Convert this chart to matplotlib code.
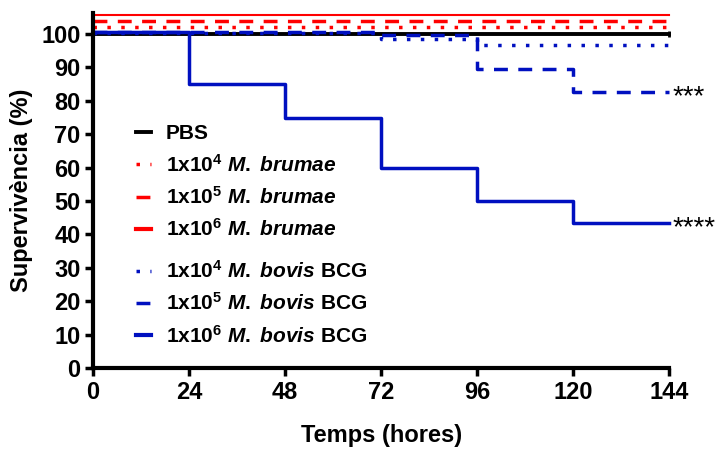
import matplotlib
matplotlib.use("Agg")
import matplotlib.pyplot as plt
from matplotlib.lines import Line2D

plt.rcParams['font.family'] = ['Liberation Sans', 'DejaVu Sans']
plt.rcParams['font.weight'] = 'bold'
plt.rcParams['mathtext.fontset'] = 'custom'
plt.rcParams['mathtext.rm'] = 'Liberation Sans:bold'
plt.rcParams['mathtext.it'] = 'Liberation Sans:bold:italic'
plt.rcParams['mathtext.bf'] = 'Liberation Sans:bold'

# time points (hours) where each interval starts
hours = [0, 24, 48, 72, 96, 120, 144]

# survival (%) per interval, as drawn (Prism offsets the overlapping 100% lines)
pbs = [100, 100, 100, 100, 100, 100]
brumae_1e4 = [102.1, 102.1, 102.1, 102.1, 102.1, 102.1]
brumae_1e5 = [103.9, 103.9, 103.9, 103.9, 103.9, 103.9]
brumae_1e6 = [105.7, 105.7, 105.7, 105.7, 105.7, 105.7]
bcg_1e4 = [100.3, 100.3, 100.3, 98.4, 96.7, 96.7]
bcg_1e5 = [100.5, 100.5, 100.5, 99.7, 89.4, 82.6]
bcg_1e6 = [100.7, 85, 75, 60, 50, 43.3]

labels = [
    "PBS",
    r"1x10$^{4}$ $\it{M.}$ $\it{brumae}$",
    r"1x10$^{5}$ $\it{M.}$ $\it{brumae}$",
    r"1x10$^{6}$ $\it{M.}$ $\it{brumae}$",
    r"1x10$^{4}$ $\it{M.}$ $\it{bovis}$ BCG",
    r"1x10$^{5}$ $\it{M.}$ $\it{bovis}$ BCG",
    r"1x10$^{6}$ $\it{M.}$ $\it{bovis}$ BCG",
]
stars_bcg_1e5 = "***"
stars_bcg_1e6 = "****"

RED = "#ff0000"
BLUE = "#0010c0"

fig = plt.figure(figsize=(7.15, 4.5), dpi=100)
ax = fig.add_axes([0.130, 0.182, 0.806, 0.789])


def step(vals, **kw):
    return ax.step(hours, vals + [vals[-1]], where='post', clip_on=False, **kw)[0]


series = [
    (brumae_1e6, dict(color=RED, lw=1.5, ls='-')),
    (brumae_1e5, dict(color=RED, lw=2.5, ls=(0, (4, 3)))),
    (brumae_1e4, dict(color=RED, lw=2.5, ls=(0, (1, 3)))),
    (pbs, dict(color='black', lw=2.8, ls='-')),
    (bcg_1e4, dict(color=BLUE, lw=2.5, ls=(0, (1, 3)))),
    (bcg_1e5, dict(color=BLUE, lw=2.5, ls=(0, (4, 3)))),
    (bcg_1e6, dict(color=BLUE, lw=2.5, ls='-')),
]
for vals, kw in series:
    step(vals, **kw)
ax.plot([hours[-1]], [pbs[-1]], marker='|', ms=5, mew=2, color='black', clip_on=False)

# significance stars, glyph centre sits on the line
ax.text(hours[-1] + 0.8, bcg_1e5[-1] - 3.6, stars_bcg_1e5, fontsize=20,
        fontweight='normal', va='baseline', ha='left')
ax.text(hours[-1] + 0.8, bcg_1e6[-1] - 3.6, stars_bcg_1e6, fontsize=20,
        fontweight='normal', va='baseline', ha='left')

# legend (two groups)
h_red = [
    Line2D([], [], color='black', lw=2.8),
    Line2D([], [], color=RED, lw=2.5, ls=(0, (1, 3))),
    Line2D([], [], color=RED, lw=2.5, ls=(0, (4, 3))),
    Line2D([], [], color=RED, lw=3),
]
h_blue = [
    Line2D([], [], color=BLUE, lw=2.5, ls=(0, (1, 3))),
    Line2D([], [], color=BLUE, lw=2.5, ls=(0, (4, 3))),
    Line2D([], [], color=BLUE, lw=3),
]
leg_kw = dict(frameon=False, fontsize=15, handlelength=0.75, handletextpad=0.7,
              labelspacing=0.5, borderaxespad=0, loc='upper left')
leg1 = ax.legend(h_red, labels[:4], bbox_to_anchor=(0.06, 0.71), **leg_kw)
ax.add_artist(leg1)
ax.legend(h_blue, labels[4:], bbox_to_anchor=(0.06, 0.328), **leg_kw)

ax.set_xlim(0, 144)
ax.set_ylim(0, 106.3)
ax.set_xticks(hours)
ax.set_yticks(range(0, 101, 10))
ax.tick_params(direction='out', length=6, width=2.5, labelsize=17, pad=3)
for lab in ax.get_xticklabels() + ax.get_yticklabels():
    lab.set_fontweight('bold')
for s in ['top', 'right']:
    ax.spines[s].set_visible(False)
for s in ['left', 'bottom']:
    ax.spines[s].set_linewidth(3)

ax.set_xlabel("Temps (hores)", fontsize=17, fontweight='bold', labelpad=15)
ax.set_ylabel("Supervivència (%)", fontsize=17, fontweight='bold', labelpad=6)

fig.savefig("out.png", dpi=100)
